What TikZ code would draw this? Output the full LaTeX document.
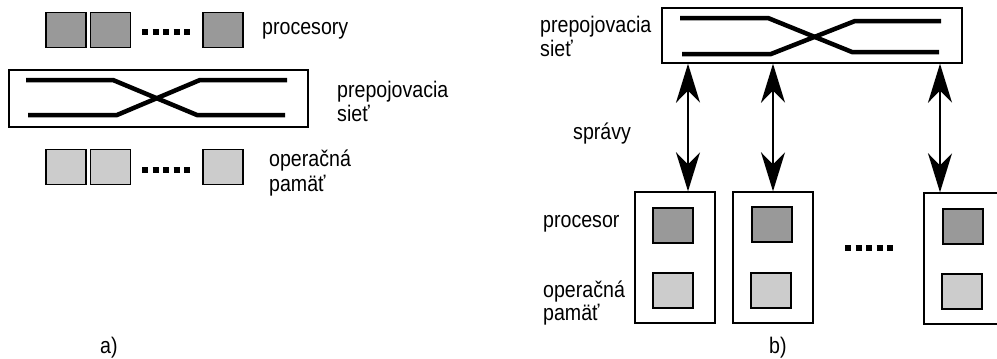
\documentclass[tikz,border=0pt]{standalone}
\usepackage{fontspec}
\setmainfont{Liberation Sans}
\usetikzlibrary{arrows.meta,calc}
\definecolor{procgray}{HTML}{999999}
\definecolor{memgray}{HTML}{CCCCCC}
\newcommand\stretchtxt[1]{\scalebox{1}[1.15]{#1}}
\tikzset{
  procbox/.style={draw=black, line width=1.4pt, fill=procgray, inner sep=0pt, minimum width=40pt, minimum height=35pt},
  membox/.style={draw=black, line width=1.4pt, fill=memgray, inner sep=0pt, minimum width=40pt, minimum height=35pt},
  netbox/.style={draw=black, line width=1.4pt, inner sep=0pt},
  pebox/.style={draw=black, line width=1.4pt, inner sep=0pt, minimum width=80pt, minimum height=131pt},
  wire/.style={line width=4.5pt},
  dotline/.style={line width=5.5pt, dash pattern=on 6pt off 4.5pt},
  lbl/.style={inner sep=0pt, anchor=base west, font=\fontsize{19.6}{24}\selectfont},
  dbl/.style={line width=2pt, {Stealth[length=39pt,width=24pt,inset=12pt]}-{Stealth[length=39pt,width=24pt,inset=12pt]}},
}
\begin{document}
\begin{tikzpicture}[x=1pt,y=-1pt]
\useasboundingbox (0,0) rectangle (997,359);
\clip (0,0) rectangle (997,359);
% ---- part a ----
\node[procbox] (pa1) at (66,30) {};
\node[procbox] (pa2) at (110.5,30) {};
\node[procbox] (pa3) at (223,30) {};
\draw[dotline] (142,32) -- (190,32);
\node[lbl] (tproc) at (262,34) {\stretchtxt{procesory}};

\node[netbox, minimum width=299pt, minimum height=57pt] (neta) at (158.5,98.5) {};
\draw[wire] (26,80) -- (113,80) -- (197,115) -- (285,115);
\draw[wire] (28,115) -- (117,115) -- (200,80) -- (287,80);
\node[lbl] (tneta1) at (337,97) {\stretchtxt{prepojovacia}};
\node[lbl] (tneta2) at (337,121) {\stretchtxt{sieť}};

\node[membox] (ma1) at (66,167) {};
\node[membox] (ma2) at (110.5,167) {};
\node[membox] (ma3) at (223,167) {};
\draw[dotline] (142,170) -- (190,170);
\node[lbl] (tmema1) at (269,166) {\stretchtxt{operačná}};
\node[lbl] (tmema2) at (269,191) {\stretchtxt{pamäť}};

\node[lbl] (ta) at (100,353) {\stretchtxt{a)}};

% ---- part b ----
\node[netbox, minimum width=300pt, minimum height=55pt] (netb) at (812,35.5) {};
\draw[wire] (680,18) -- (768,18) -- (852,52) -- (939,52);
\draw[wire] (682,54) -- (771,54) -- (855,21) -- (941,21);
\node[lbl] (tnetb1) at (540,32) {\stretchtxt{prepojovacia}};
\node[lbl] (tnetb2) at (540,56) {\stretchtxt{sieť}};

\node[pebox] (pe1) at (675,257.5) {};
\node[pebox] (pe2) at (773,257.5) {};
\node[pebox] (pe3) at (964,258.5) {};

\node[procbox] (pb1) at (673,225.5) {};
\node[membox] (mb1) at (673,290.5) {};
\node[procbox] (pb2) at (772,224.5) {};
\node[membox] (mb2) at (771,290.5) {};
\node[procbox] (pb3) at (963,226.5) {};
\node[membox] (mb3) at (962,291.5) {};

\draw[dotline] (845,248) -- (893,248);

\path (pe1.north) ++(13,0) coordinate (c1);
\path (pe2.north) ++(0,0) coordinate (c2);
\path (pe3.north) ++(-24,0) coordinate (c3);
\draw[dbl] (c1 |- netb.south) -- (c1);
\draw[dbl] (c2 |- netb.south) -- (c2);
\draw[dbl] (c3 |- netb.south) -- (c3);

\node[lbl] (tspr) at (573,139) {\stretchtxt{správy}};
\node[lbl] (tprocb) at (543,227) {\stretchtxt{procesor}};
\node[lbl] (tmemb1) at (543,297) {\stretchtxt{operačná}};
\node[lbl] (tmemb2) at (543,320) {\stretchtxt{pamäť}};
\node[lbl] (tb) at (769,353) {\stretchtxt{b)}};
\end{tikzpicture}
\end{document}
